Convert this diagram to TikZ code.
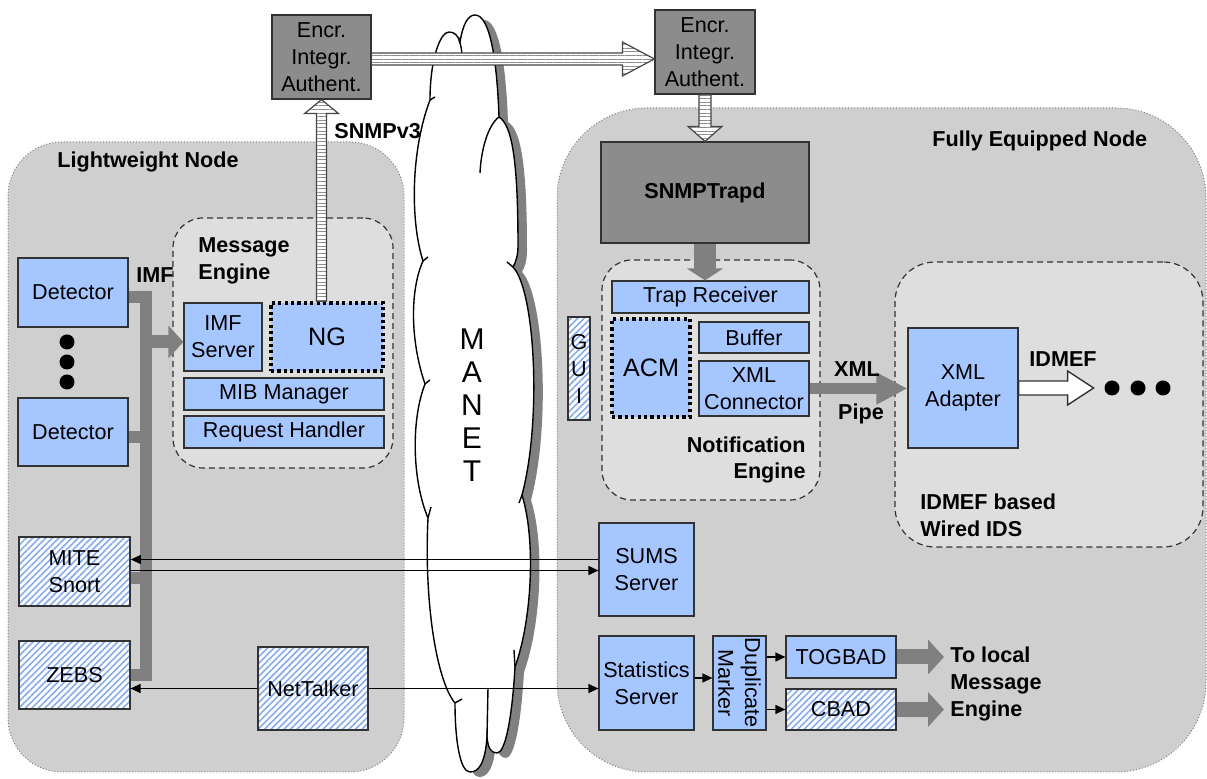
\documentclass[tikz,border=0pt]{standalone}
\usepackage{fontspec}
\setmainfont{Liberation Sans}
\usetikzlibrary{arrows.meta,patterns.meta,calc}

\definecolor{nodegray}{RGB}{207,207,207}
\definecolor{enggray}{RGB}{222,222,222}
\definecolor{boxblue}{RGB}{166,198,255}
\definecolor{darkfill}{RGB}{140,140,140}
\definecolor{busgray}{RGB}{128,128,128}
\definecolor{hatchblue}{RGB}{135,172,235}
\definecolor{edgegray}{RGB}{50,50,50}

\newcommand{\mainfs}{\fontsize{10.8}{13.4}\selectfont}
\newcommand{\bigfs}{\fontsize{12.6}{14}\selectfont}

\tikzset{
  span/.style args={#1/#2/#3/#4}{minimum width={(#3-#1)*0.5pt}, minimum height={(#4-#2)*0.5pt}, at={({(#1+#3)/2},{(#2+#4)/2})}},
  box/.style={draw=edgegray, line width=0.6pt, inner sep=0pt, align=center, font=\mainfs},
  bluebox/.style={box, fill=boxblue},
  hatchbox/.style={box, preaction={fill=white}, pattern={Lines[angle=45,distance=2.3pt,line width=0.8pt]}, pattern color=hatchblue},
  darkbox/.style={box, fill=darkfill},
  dotbox/.style={bluebox, draw=black, line width=1.7pt, dash pattern=on 1.6pt off 1.6pt, font=\bigfs},
  outernode/.style={fill=nodegray, draw=gray, line width=0.5pt, densely dotted, inner sep=0pt, rounded corners=27pt},
  engine/.style={fill=enggray, draw=edgegray, line width=0.6pt, dash pattern=on 3pt off 2pt, inner sep=0pt, rounded corners=15pt},
  lbl/.style={font=\mainfs\bfseries, inner sep=0pt, align=left},
  conn/.style={draw=black, line width=0.6pt, -{Triangle[length=5pt,width=4.5pt]}},
  busline/.style={draw=busgray, line width=6pt},
  stripe/.style={draw={rgb,255:red,70;green,70;blue,70}, line width=0.6pt, preaction={fill=white}, pattern={Lines[angle=0,distance=1.8pt,line width=0.45pt]}, pattern color={rgb,255:red,140;green,140;blue,140}},
  grayarrow/.style={draw=busgray, line width=7.5pt, -{Triangle[length=8pt,width=17pt]}},
}

\begin{document}
\begin{tikzpicture}[x=0.5pt,y=-0.5pt]
\clip (0,0) rectangle (1207,779);
\fill[white] (0,0) rectangle (1207,779);

% outer nodes
\node[outernode, span=8/142/404/772] (lw) {};
\node[outernode, rounded corners=45pt, span=557/108/1206/772] (fe) {};
\node[lbl, anchor=west] (lwlabel) at (57,162) {Lightweight Node};
\node[lbl, anchor=west] (felabel) at (932,141) {Fully Equipped Node};

% MANET cloud
\def\cloudpath{(430,100) .. controls (430,60) and (440,32) .. (449,32) .. controls (455,32) and (458,36) .. (460,42) .. controls (463,24) and (468,15) .. (475,15) .. controls (490,15) and (497,60) .. (499,117) .. controls (512,125) and (518,160) .. (518,246) .. controls (518,255) and (516,262) .. (513,267) .. controls (535,290) and (542,420) .. (522,495) .. controls (536,540) and (532,620) .. (515,667) .. controls (512,720) and (505,753) .. (497,753) .. controls (491,753) and (488,748) .. (487,737) .. controls (485,765) and (478,772) .. (470,772) .. controls (460,772) and (455,740) .. (455,703) .. controls (436,680) and (424,600) .. (428,518) .. controls (412,480) and (411,420) .. (425,384) .. controls (410,340) and (410,290) .. (423,261) .. controls (410,220) and (411,150) .. (430,100) -- cycle}
\fill[busgray, shift={(9,5)}] \cloudpath;
\filldraw[fill=white, draw=black, line width=0.7pt] \cloudpath;
\draw[line width=0.7pt] (459,40) .. controls (461,46) .. (462,54);
\draw[line width=0.7pt] (499,117) .. controls (488,125) and (481,150) .. (480,173);
\draw[line width=0.7pt] (513,267) -- (507,262);
\draw[line width=0.7pt] (522,495) -- (519,503);
\draw[line width=0.7pt] (515,667) -- (514,650);
\draw[line width=0.7pt] (455,703) -- (462,699);
\draw[line width=0.7pt] (487,737) -- (488,688);
\draw[line width=0.7pt] (428,518) -- (431,507);
\draw[line width=0.7pt] (425,384) -- (430,380);
\draw[line width=0.7pt] (423,261) -- (428,257);
\draw[line width=0.7pt] (430,100) -- (435,97);
\node[font=\fontsize{15}{16.5}\selectfont, align=center, inner sep=0pt] (manet) at (472,405) {M\\A\\N\\E\\T};

% engines
\node[engine, span=173/218/393/468] (msgeng) {};
\node[lbl, anchor=west] (msglabel) at (198,261) {Message\\Engine};
\node[engine, span=602/260/820/500] (notif) {};
\node[lbl, anchor=east, align=right] (notiflabel) at (806,460) {Notification\\Engine};
\node[engine, rounded corners=20pt, span=895/262/1203/547] (ids) {};
\node[lbl, anchor=west] (idslabel) at (920,515) {IDMEF based\\Wired IDS};

% lightweight node boxes
\node[bluebox, span=18/258/128/327] (det1) {Detector};
\node[bluebox, span=18/398/128/466] (det2) {Detector};
\fill (67,342) circle (7.5);
\fill (67,362) circle (7.5);
\fill (67,382) circle (7.5);
\node[bluebox, span=184/303/262/371] (imf) {IMF\\Server};
\node[dotbox, span=271/303/383/371] (ng) {NG};
\node[bluebox, span=184/378/384/410] (mib) {MIB Manager};
\node[bluebox, span=184/416/384/448] (req) {Request Handler};
\node[hatchbox, span=19/537/130/606] (mite) {MITE\\Snort};
\node[hatchbox, span=19/641/130/709] (zebs) {ZEBS};
\node[hatchbox, span=258/647/368/730] (nettalker) {NetTalker};
\node[lbl, anchor=west] (imflabel) at (136,275) {IMF};

% bus
\coordinate (busB) at (146,675);
\draw[busline] (det1.east) ++(0,5) coordinate (d1stub) -| (busB) -- (zebs.east);
\draw[busline] (det2.east) ++(0,5) coordinate (d2stub) -- (d2stub -| busB);
\draw[busline] (mite.east) ++(0,7) coordinate (mitestub) -- (mitestub -| busB);
\draw[busline, line width=6.5pt, -{Triangle[length=7.5pt,width=16pt]}] ($(busB |- imf.west)+(-6,5)$) coordinate (imfarr) -- (imfarr -| imf.west);

% encr boxes
\node[darkbox, span=272/15/371/99] (encrL) {Encr.\\Integr.\\Authent.};
\node[darkbox, span=655/10/755/94] (encrR) {Encr.\\Integr.\\Authent.};
\node[darkbox, font=\mainfs\bfseries, span=601/142/809/243] (snmp) {SNMPTrapd};

% fully equipped node boxes
\node[bluebox, span=612/281/809/313] (trap) {Trap Receiver};
\node[dotbox, span=612/319/690/417] (acm) {ACM};
\node[bluebox, span=699/322/809/353] (buffer) {Buffer};
\node[bluebox, span=699/361/809/416] (xmlconn) {XML\\Connector};
\node[hatchbox, span=568/317/590/420, font=\fontsize{10.8}{13.5}\selectfont] (gui) {G\\U\\I};
\node[bluebox, span=908/328/1018/448] (xmlad) {XML\\Adapter};
\node[bluebox, span=599/523/694/616] (sums) {SUMS\\Server};
\node[bluebox, span=599/636/694/730] (stats) {Statistics\\Server};
\node[bluebox, span=713/636/766/730] (dup) {};
\node[rotate=-90, align=center, font=\mainfs, inner sep=0pt] (duptext) at (dup.center) {Duplicate\\Marker};
\node[bluebox, span=786/636/896/678] (togbad) {TOGBAD};
\node[hatchbox, span=786/689/896/730] (cbad) {CBAD};

% SNMPv3 striped arrows
\coordinate (vA) at (encrL.south |- ng.north);
\coordinate (vB) at (encrL.south);
\draw[stripe] ($(vA)+(-5,0)$) -- ($(vB)+(-5,14)$) -- ($(vB)+(-17,14)$) -- (vB) -- ($(vB)+(17,14)$) -- ($(vB)+(5,14)$) -- ($(vA)+(5,0)$) -- cycle;
\node[lbl, anchor=west] (snmpv3) at (334,131) {SNMPv3};

\coordinate (hA) at ($(encrL.east)+(0,2)$);
\coordinate (hB) at (hA -| encrR.west);
\draw[stripe] ($(hA)+(0,-6)$) -- ($(hB)+(-32,-6)$) -- ($(hB)+(-32,-17)$) -- (hB) -- ($(hB)+(-32,17)$) -- ($(hB)+(-32,6)$) -- ($(hA)+(0,6)$) -- cycle;

\coordinate (dA) at (encrR.south);
\coordinate (dB) at (encrR.south |- snmp.north);
\draw[stripe] ($(dA)+(-6,0)$) -- ($(dB)+(-6,-15)$) -- ($(dB)+(-17,-15)$) -- (dB) -- ($(dB)+(17,-15)$) -- ($(dB)+(6,-15)$) -- ($(dA)+(6,0)$) -- cycle;

% SNMPTrapd -> Trap receiver
\draw[draw=busgray, line width=11pt, -{Triangle[length=6pt,width=18pt]}] (snmp.south) -- (snmp.south |- trap.north);

% XML pipe
\draw[draw=busgray, line width=5.5pt, -{Triangle[length=15.5pt,width=15pt]}] (xmlconn.east) -- (xmlconn.east -| xmlad.west);
\node[lbl] (xmllabel) at (857,369) {XML};
\node[lbl] (pipelabel) at (861,414) {Pipe};

% IDMEF white arrow
\coordinate (iA) at (xmlad.east);
\coordinate (iB) at ($(xmlad.east)+(75,0)$);
\filldraw[fill=white, draw=edgegray, line width=0.7pt] ($(iA)+(0,-7)$) -- ($(iB)+(-26,-7)$) -- ($(iB)+(-26,-17)$) -- (iB) -- ($(iB)+(-26,17)$) -- ($(iB)+(-26,7)$) -- ($(iA)+(0,7)$) -- cycle;
\node[lbl] (idmeflabel) at (1063,359) {IDMEF};
\fill (1112,388) circle (7.5);
\fill (1138,388) circle (7.5);
\fill (1163,388) circle (7.5);

% thin connectors
\coordinate (m1) at ($(mite.east)+(0,-12)$);
\coordinate (m2) at ($(mite.east)+(0,-1)$);
\draw[conn] (m1 -| sums.west) -- (m1);
\draw[conn] (m2) -- (m2 -| sums.west);
\draw[conn] (nettalker.west) -- (nettalker.west -| zebs.east);
\draw[conn] (nettalker.east) -- (nettalker.east -| stats.west);
\coordinate (s1) at ($(stats.east)+(0,-5)$);
\draw[conn] (s1) -- (s1 -| dup.west);
\draw[conn] (togbad.west -| dup.east) -- (togbad.west);
\draw[conn] (cbad.west -| dup.east) -- (cbad.west);

% output arrows
\coordinate (outEnd) at (944,0);
\draw[grayarrow] (togbad.east) -- (togbad.east -| outEnd);
\draw[grayarrow] (cbad.east) -- (cbad.east -| outEnd);
\node[lbl, anchor=west] (tolocal) at (950,684) {To local\\Message\\Engine};
\end{tikzpicture}
\end{document}
